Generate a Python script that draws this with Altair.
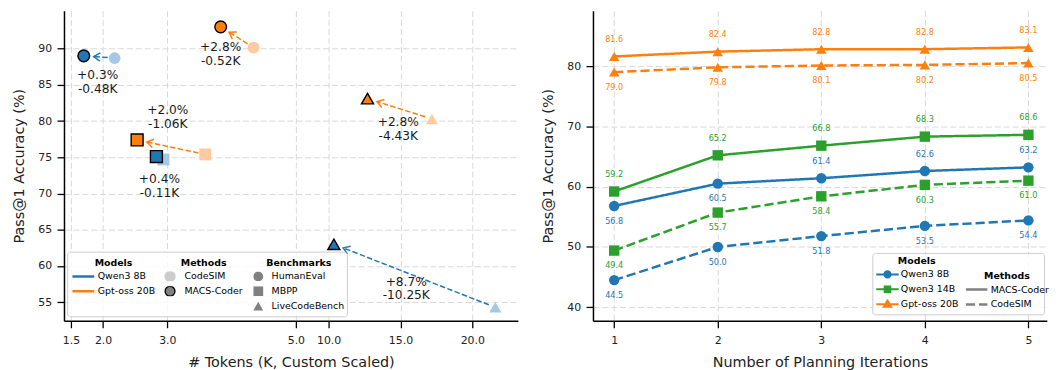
import math
import altair as alt
import numpy as np
import pandas as pd

FONT = "DejaVu Sans"
BLUE, ORANGE, GREEN = "#1f77b4", "#ff7f0e", "#2ca02c"
LIGHT_BLUE, LIGHT_ORANGE = "#a6c8e2", "#ffcb9e"

# ---------------- Left panel data ----------------
models_l = ["Qwen3 8B", "Gpt-oss 20B"]
benches = ["HumanEval", "MBPP", "LiveCodeBench"]
pair_model = ["Qwen3 8B", "Gpt-oss 20B", "Qwen3 8B", "Gpt-oss 20B", "Qwen3 8B", "Gpt-oss 20B"]
pair_bench = ["HumanEval", "HumanEval", "MBPP", "MBPP", "LiveCodeBench", "LiveCodeBench"]
codesim_tokens = [2.18, 4.34, 2.94, 3.59, 21.60, 17.19]
codesim_acc = [88.7, 90.15, 74.7, 75.4, 54.3, 80.3]
macs_tokens = [1.70, 3.83, 2.83, 2.53, 10.37, 12.71]
macs_acc = [89.0, 93.0, 75.1, 77.4, 63.0, 83.1]
acc_gain = ["+0.3%", "+2.8%", "+0.4%", "+2.0%", "+8.7%", "+2.8%"]
token_save = ["-0.48K", "-0.52K", "-0.11K", "-1.06K", "-10.25K", "-4.43K"]
x_ticks_l = [1.5, 2.0, 3.0, 5.0, 10.0, 15.0, 20.0]
y_ticks_l = [55, 60, 65, 70, 75, 80, 85, 90]

# ---------------- Right panel data ----------------
iters = [1, 2, 3, 4, 5]
models_r = ["Qwen3 8B", "Qwen3 14B", "Gpt-oss 20B"]
methods_r = ["MACS-Coder", "CodeSIM"]
q8_macs = [56.8, 60.5, 61.4, 62.6, 63.2]
q8_code = [44.5, 50.0, 51.8, 53.5, 54.4]
q14_macs = [59.2, 65.2, 66.8, 68.3, 68.6]
q14_code = [49.4, 55.7, 58.4, 60.3, 61.0]
gpt_macs = [81.6, 82.4, 82.8, 82.8, 83.1]
gpt_code = [79.0, 79.8, 80.1, 80.2, 80.5]
q8_macs_side = ["below", "below", "above", "above", "above"]

# ---------------- Layout / scales ----------------
W_L, W_R, H = 458, 458, 313
X_DOM = [1.392, 5.0, 10.0, 23.17]        # custom (piecewise) token scale
X_RNG = [0, 234, 267, W_L]
Y_DOM_L = [52.44, 95.24]
X_DOM_R = [0.795, 5.178]
Y_DOM_R = [37.75, 89.2]


def to_px(x, y):
    return (float(np.interp(x, X_DOM, X_RNG)),
            (Y_DOM_L[1] - y) / (Y_DOM_L[1] - Y_DOM_L[0]) * H)


def from_px(px, py):
    return (float(np.interp(px, X_RNG, X_DOM)),
            Y_DOM_L[1] - py / H * (Y_DOM_L[1] - Y_DOM_L[0]))


pairs = pd.DataFrame({
    "model": pair_model, "bench": pair_bench,
    "cs_x": codesim_tokens, "cs_y": codesim_acc,
    "m_x": macs_tokens, "m_y": macs_acc,
    "label": [a + "\n" + t for a, t in zip(acc_gain, token_save)],
})

arrow_rows = []
for i in range(len(pairs)):
    p0 = to_px(codesim_tokens[i], codesim_acc[i])
    p1 = to_px(macs_tokens[i], macs_acc[i])
    dx, dy = p1[0] - p0[0], p1[1] - p0[1]
    d = math.hypot(dx, dy)
    if d < 20:
        continue
    ux, uy = dx / d, dy / d
    s = from_px(p0[0] + ux * 7, p0[1] + uy * 7)
    e = from_px(p1[0] - ux * 10, p1[1] - uy * 10)
    ang = math.degrees(math.atan2(uy, ux)) % 360
    arrow_rows.append({"model": pair_model[i], "x0": s[0], "y0": s[1],
                       "x1": e[0], "y1": e[1], "angle": ang})
arrows = pd.DataFrame(arrow_rows)

color_l = alt.Scale(domain=models_l, range=[BLUE, ORANGE])
light_l = alt.Scale(domain=models_l, range=[LIGHT_BLUE, LIGHT_ORANGE])
shape_l = alt.Scale(domain=benches, range=["circle", "square", "triangle-up"])
size_l = alt.Scale(domain=benches, range=[140, 150, 190])

xs_l = alt.Scale(domain=X_DOM, range=X_RNG, nice=False, zero=False)
ys_l = alt.Scale(domain=Y_DOM_L, nice=False, zero=False)
x_axis_l = alt.Axis(values=x_ticks_l, format=".1f", title="# Tokens (K, Custom Scaled)")
y_axis_l = alt.Axis(values=y_ticks_l, title="Pass@1 Accuracy (%)")

ARROW = "M-1,-0.65L0,0L-1,0.65"

rules = alt.Chart(arrows).mark_rule(strokeWidth=1.5, strokeDash=[5.5, 2.4]).encode(
    x=alt.X("x0:Q", scale=xs_l, axis=x_axis_l),
    y=alt.Y("y0:Q", scale=ys_l, axis=y_axis_l),
    x2="x1:Q", y2="y1:Q",
    stroke=alt.Stroke("model:N", scale=color_l, legend=None),
)
heads = alt.Chart(arrows).mark_point(shape=ARROW, filled=False, size=170, strokeWidth=1.5, opacity=1).encode(
    x="x1:Q", y="y1:Q",
    angle=alt.Angle("angle:Q", scale=None),
    stroke=alt.Stroke("model:N", scale=color_l, legend=None),
)
cs_pts = alt.Chart(pairs).mark_point(filled=True, opacity=1).encode(
    x="cs_x:Q", y="cs_y:Q",
    fill=alt.Fill("model:N", scale=light_l, legend=None),
    shape=alt.Shape("bench:N", scale=shape_l, legend=None),
    size=alt.Size("bench:N", scale=size_l, legend=None),
)
m_pts = alt.Chart(pairs).mark_point(filled=True, opacity=1, stroke="black", strokeWidth=1.4).encode(
    x="m_x:Q", y="m_y:Q",
    fill=alt.Fill("model:N", scale=color_l, legend=None),
    shape=alt.Shape("bench:N", scale=shape_l, legend=None),
    size=alt.Size("bench:N", scale=size_l, legend=None),
)
# pixel offsets of the first text line relative to the MACS-Coder point
label_offsets = [(14, 19), (0, 20.5), (3, 23), (31, -29.7), (73, 37.7), (31, 23.4)]
texts = []
for i, (ox, oy) in enumerate(label_offsets):
    texts.append(alt.Chart(pairs.iloc[[i]]).mark_text(
        dx=ox, dy=oy, fontSize=12.3, lineBreak="\n", lineHeight=14,
        color="#1a1a1a", align="center", baseline="middle").encode(
        x="m_x:Q", y="m_y:Q", text="label:N"))

frame_l = alt.Chart(pd.DataFrame({"k": [0]})).mark_rect(
    fill="white", fillOpacity=0.8, stroke="#cccccc", strokeWidth=1, cornerRadius=3).encode(
    x=alt.value(3.7), x2=alt.value(286), y=alt.value(243.7), y2=alt.value(309))


def leg(title, lx, ly, **kw):
    base = dict(title=title, orient="none", legendX=lx, legendY=ly, titleAnchor="middle",
                titleFontSize=9.5, titleFontWeight="bold", titleColor="black",
                titlePadding=4, labelFontSize=9.5, labelColor="black",
                rowPadding=5, clipHeight=10, padding=0)
    base.update(kw)
    return alt.Legend(**base)


leg_models_l = leg("Models", 7, 249.7, symbolType="stroke", symbolSize=484,
                   symbolStrokeWidth=2.5, labelOffset=2)
dummy_models_l = alt.Chart(pairs).transform_filter("false").mark_line(strokeWidth=2.5).encode(
    x="m_x:Q", y="m_y:Q",
    stroke=alt.Stroke("model:N", scale=color_l, legend=leg_models_l),
)
methods_l = ["CodeSIM", "MACS-Coder"]
leg_methods_l = leg("Methods", 101, 249.7, symbolType="circle", symbolSize=100,
                    symbolStrokeWidth=1.3, labelOffset=8.5)
dummy_methods_l = alt.Chart(pairs).transform_filter("false").mark_point(filled=True, opacity=1).encode(
    x="m_x:Q", y="m_y:Q",
    fill=alt.Fill("bench:N", scale=alt.Scale(domain=methods_l, range=["#cccccc", "#808080"]), legend=leg_methods_l),
    stroke=alt.Stroke("bench:N", scale=alt.Scale(domain=methods_l, range=["#cccccc", "#000000"]), legend=leg_methods_l),
)
leg_bench_l = leg("Benchmarks", 191, 249.7, symbolSize=100, symbolFillColor="#808080",
                  symbolStrokeColor="#808080", symbolStrokeWidth=0, labelOffset=8.5)
dummy_bench_l = alt.Chart(pairs).transform_filter("false").mark_point(filled=True, opacity=1, color="#808080").encode(
    x="m_x:Q", y="m_y:Q",
    shape=alt.Shape("bench:N", scale=shape_l, legend=leg_bench_l),
)

left = alt.layer(rules, heads, cs_pts, m_pts, *texts, frame_l,
                 dummy_models_l, dummy_methods_l, dummy_bench_l).resolve_scale(
    fill="independent", stroke="independent", shape="independent", size="independent"
).properties(width=W_L, height=H)

# ---------------- Right panel ----------------
rows = []
series = [("Qwen3 8B", "MACS-Coder", q8_macs, q8_macs_side),
          ("Qwen3 8B", "CodeSIM", q8_code, ["below"] * 5),
          ("Qwen3 14B", "MACS-Coder", q14_macs, ["above"] * 5),
          ("Qwen3 14B", "CodeSIM", q14_code, ["below"] * 5),
          ("Gpt-oss 20B", "MACS-Coder", gpt_macs, ["above"] * 5),
          ("Gpt-oss 20B", "CodeSIM", gpt_code, ["below"] * 5)]
for m, meth, vals, sides in series:
    for it, v, sd in zip(iters, vals, sides):
        rows.append({"model": m, "method": meth, "iter": it, "val": v, "side": sd})
rdf = pd.DataFrame(rows)

color_r = alt.Scale(domain=models_r, range=[BLUE, GREEN, ORANGE])
shape_r = alt.Scale(domain=models_r, range=["circle", "square", "triangle-up"])
dash_r = alt.Scale(domain=methods_r, range=[[1, 0], [9.25, 4]])
xs_r = alt.Scale(domain=X_DOM_R, nice=False, zero=False)
ys_r = alt.Scale(domain=Y_DOM_R, nice=False, zero=False)

rx = alt.X("iter:Q", scale=xs_r, axis=alt.Axis(values=iters, format="d", title="Number of Planning Iterations"))
ry = alt.Y("val:Q", scale=ys_r, axis=alt.Axis(values=[40, 50, 60, 70, 80], title="Pass@1 Accuracy (%)"))

lines = alt.Chart(rdf).mark_line(strokeWidth=2.5).encode(
    x=rx, y=ry,
    color=alt.Color("model:N", scale=color_r, legend=None),
    strokeDash=alt.StrokeDash("method:N", scale=dash_r, legend=None),
    order="iter:Q",
)
pts = alt.Chart(rdf).mark_point(filled=True, opacity=1, size=110).encode(
    x="iter:Q", y="val:Q",
    color=alt.Color("model:N", scale=color_r, legend=None),
    shape=alt.Shape("model:N", scale=shape_r, legend=None),
)
lab_above = alt.Chart(rdf).transform_filter("datum.side == 'above'").mark_text(
    dy=-16.5, fontSize=8.2, baseline="middle").encode(
    x="iter:Q", y="val:Q", text=alt.Text("val:Q", format=".1f"),
    color=alt.Color("model:N", scale=color_r, legend=None))
lab_below = alt.Chart(rdf).transform_filter("datum.side == 'below'").mark_text(
    dy=16, fontSize=8.2, baseline="middle").encode(
    x="iter:Q", y="val:Q", text=alt.Text("val:Q", format=".1f"),
    color=alt.Color("model:N", scale=color_r, legend=None))

frame_r = alt.Chart(pd.DataFrame({"k": [0]})).mark_rect(
    fill="white", fillOpacity=0.8, stroke="#cccccc", strokeWidth=1, cornerRadius=3).encode(
    x=alt.value(282.4), x2=alt.value(455.7), y=alt.value(245), y2=alt.value(307))

LEG_PATHS = [
    "M-1,0L1,0M0.28,0A0.28,0.28,0,1,1,-0.28,0A0.28,0.28,0,1,1,0.28,0Z",
    "M-1,0L1,0M-0.25,-0.25L0.25,-0.25L0.25,0.25L-0.25,0.25Z",
    "M-1,0L1,0M0,-0.33L0.33,0.24L-0.33,0.24Z",
]
leg_models_r = leg("Models", 284.7, 247.7, symbolSize=512, symbolStrokeWidth=2, labelOffset=1)
dummy_models_r = alt.Chart(rdf).transform_filter("false").mark_point(filled=True, opacity=1).encode(
    x="iter:Q", y="val:Q",
    fill=alt.Fill("model:N", scale=color_r, legend=leg_models_r),
    stroke=alt.Stroke("model:N", scale=color_r, legend=leg_models_r),
    shape=alt.Shape("model:N", scale=alt.Scale(domain=models_r, range=LEG_PATHS), legend=leg_models_r),
)
leg_methods_r = leg("Methods", 374.7, 263, symbolType="stroke", symbolSize=471,
                    symbolStrokeWidth=2.5, symbolStrokeColor="#808080", labelOffset=1.6)
dummy_methods_r = alt.Chart(rdf).transform_filter("false").mark_line(strokeWidth=2.5, color="#808080").encode(
    x="iter:Q", y="val:Q",
    strokeDash=alt.StrokeDash("method:N", scale=dash_r, legend=leg_methods_r),
)

right = alt.layer(lines, pts, lab_above, lab_below, frame_r, dummy_models_r, dummy_methods_r).resolve_scale(
    color="independent", fill="independent", stroke="independent", shape="independent",
    strokeDash="independent"
).properties(width=W_R, height=H)

chart = alt.hconcat(left, right, spacing=22.8).properties(
    padding={"left": 3.5, "top": 1, "right": 0, "bottom": 0}
).configure(font=FONT).configure_view(stroke=None).configure_axis(
    domainColor="black", domainWidth=1.5, tickColor="black", tickWidth=1.3, tickSize=7,
    labelFontSize=11, labelColor="#222222", titleFontSize=14.5, titleFontWeight="normal",
    titleColor="#222222", gridColor="#d9d9d9", gridDash=[6, 3], gridWidth=1,
).configure_axisY(labelPadding=5.5, titlePadding=11.5).configure_axisX(labelPadding=7, titlePadding=10)

chart.save("out.html", embed_options={"renderer": "svg", "actions": False})
